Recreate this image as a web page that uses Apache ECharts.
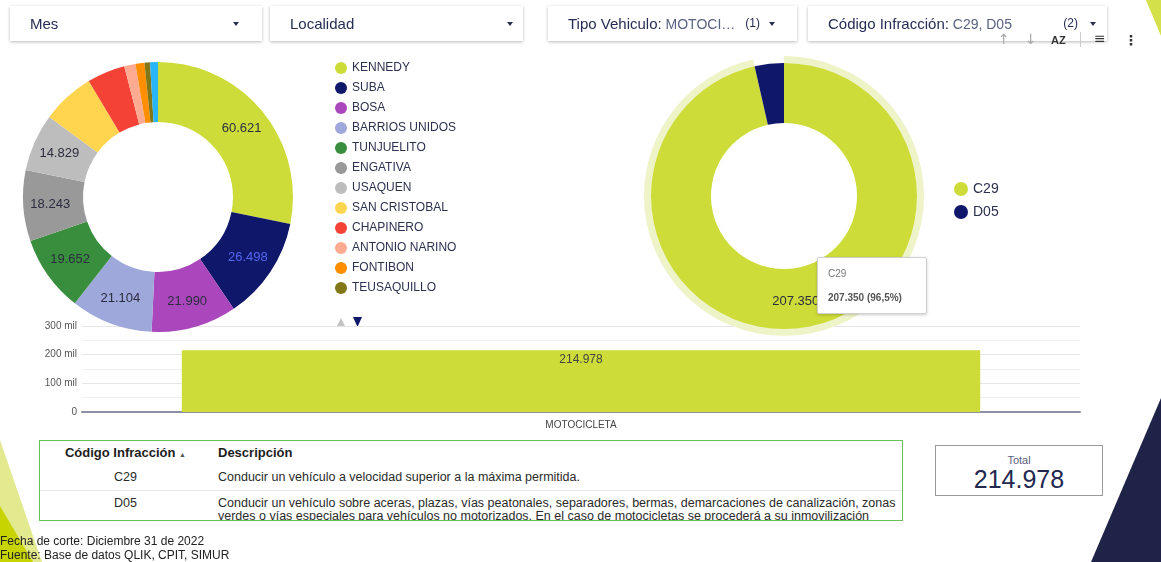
<!DOCTYPE html>
<html>
<head>
<meta charset="utf-8">
<script src="https://cdn.jsdelivr.net/npm/echarts@6/dist/echarts.min.js"></script>
<style>
body{margin:0;width:1161px;height:562px;overflow:hidden;background:#fff;font-family:Arial,"Liberation Sans",sans-serif;position:relative}
#main{position:absolute;left:0;top:0;width:1161px;height:562px}
.filtro{position:absolute;top:6px;height:35px;background:#fff;box-shadow:0 1px 3px rgba(0,0,0,.28);font-size:15px;color:#262d52;line-height:35px;box-sizing:border-box;padding-left:20px;white-space:nowrap}
.filtro .sel{color:#5b6283;font-size:14px}
.filtro .cnt{position:absolute;top:0;font-size:12px;color:#262d52}
.filtro .arr{position:absolute;top:16px;width:0;height:0;border-left:3px solid transparent;border-right:3px solid transparent;border-top:4px solid #2a2f4f}
.tool{position:absolute;top:31px;font-size:14px;color:#a8a8a8;line-height:16px;font-family:"DejaVu Sans",sans-serif}
#tabla{position:absolute;left:39px;top:440px;width:864px;height:81px;border:1.5px solid #6cbf5d;box-sizing:border-box;overflow:hidden;background:#fff}
#tabla table{border-collapse:collapse;width:100%;font-size:12.5px;color:#2a2a2a}
#tabla th{font-weight:bold;font-size:13px;color:#1d1d1d;height:23px;text-align:left;padding:0 0 0 7px}
#tabla th.c{text-align:center;padding:0}
#tabla td{padding:0 2px 0 7px;height:26px;border-bottom:1px solid #e8e8e8}
#tabla td.c{text-align:center;padding:0;width:171px}
#tabla td.top{vertical-align:top;padding-top:6px;line-height:13px;border-bottom:none}
#total{position:absolute;left:935px;top:445px;width:168px;height:51px;border:1px solid #9a9a9a;box-sizing:border-box;text-align:center;background:#fff}
#pie{position:absolute;left:0;top:534px;font-size:12px;color:#222;line-height:14px}
</style>
</head>
<body>
<div id="main"></div>

<div class="filtro" style="left:10px;width:252px">Mes<span class="arr" style="right:23px"></span></div>
<div class="filtro" style="left:270px;width:253px">Localidad<span class="arr" style="right:10px"></span></div>
<div class="filtro" style="left:548px;width:249px">Tipo Vehiculo:<span class="sel"> MOTOCI…</span><span class="cnt" style="right:37px">(1)</span><span class="arr" style="right:22px"></span></div>
<div class="filtro" style="left:808px;width:299px">Código Infracción:<span class="sel"> C29, D05</span><span class="cnt" style="right:29px">(2)</span><span class="arr" style="right:11px"></span></div>

<span class="tool" style="left:998px">↑</span>
<span class="tool" style="left:1025px">↓</span>
<span class="tool" style="left:1051px;color:#333;font-size:11px;font-weight:bold;top:32px;font-family:Arial,sans-serif">AZ</span>
<span class="tool" style="left:1080px;top:32px;width:1px;height:15px;background:#ccc"></span>
<span class="tool" style="left:1094px;color:#333;font-size:14px;top:30px">≡</span>
<span class="tool" style="left:1124px;color:#333;font-size:14px;font-weight:bold;top:32px">⋮</span>

<div id="tabla"></div>
<div id="total"><div style="font-size:11px;color:#5c6080;margin-top:8px">Total</div><div id="totalValor" style="font-size:25px;color:#232850;line-height:26px"></div></div>
<div id="pie">Fecha de corte: Diciembre 31 de 2022<br>Fuente: Base de datos QLIK, CPIT, SIMUR</div>

<script>
var localidades = ['KENNEDY', 'SUBA', 'BOSA', 'BARRIOS UNIDOS', 'TUNJUELITO', 'ENGATIVA', 'USAQUEN',
    'SAN CRISTOBAL', 'CHAPINERO', 'ANTONIO NARINO', 'FONTIBON', 'TEUSAQUILLO', 'OTROS'];
var infraccionesLocalidad = [60621, 26498, 21990, 21104, 19652, 18243, 14829, 13612, 9784, 2890, 2310, 1420, 2025];
var coloresLocalidad = ['#cddc39', '#0f176b', '#ab47bc', '#9fa8da', '#388e3c', '#999999', '#bdbdbd',
    '#ffd54f', '#f44336', '#ffab91', '#ff8f00', '#827717', '#29b6f6'];

var codigos = ['C29', 'D05'];
var infraccionesCodigo = [207350, 7628];
var coloresCodigo = ['#cddc39', '#0f176b'];
var descripciones = [
    'Conducir un vehículo a velocidad superior a la máxima permitida.',
    'Conducir un vehículo sobre aceras, plazas, vías peatonales, separadores, bermas, demarcaciones de canalización, zonas verdes o vías especiales para vehículos no motorizados. En el caso de motocicletas se procederá a su inmovilización hasta'
];

var tiposVehiculo = ['MOTOCICLETA'];
var infraccionesTipo = [214978];
var ejeMax = 300000;
var ejePaso = 100000;

function fmt(n) {
    return String(n).replace(/\B(?=(\d{3})+(?!\d))/g, '.');
}

var total = infraccionesTipo.reduce(function (a, b) { return a + b; }, 0);
var totalCodigo = infraccionesCodigo.reduce(function (a, b) { return a + b; }, 0);
document.getElementById('totalValor').textContent = fmt(total);

// tabla de descripciones
var html = '<table><tr><th class="c">Código Infracción <span style="font-size:7px;color:#555">▲</span></th><th>Descripción</th></tr>';
for (var i = 0; i < codigos.length; i++) {
    var ultima = i === codigos.length - 1;
    html += '<tr><td class="c' + (ultima ? ' top' : '') + '">' + codigos[i] + '</td><td' + (ultima ? ' class="top"' : '') + '>' + descripciones[i] + '</td></tr>';
}
html += '</table>';
document.getElementById('tabla').innerHTML = html;

var datosLocalidad = localidades.map(function (nombre, i) {
    return {
        name: nombre,
        value: infraccionesLocalidad[i],
        itemStyle: {color: coloresLocalidad[i]},
        label: {show: i < 7, color: i === 1 ? '#5468f0' : '#2b2d3f'}
    };
});
var datosCodigo = codigos.map(function (c, i) {
    return {name: c, value: infraccionesCodigo[i], itemStyle: {color: coloresCodigo[i]}, label: {show: i === 0}};
});
var datosHalo = codigos.map(function (c, i) {
    return {name: c, value: infraccionesCodigo[i], itemStyle: {color: i === 0 ? '#eef3c8' : 'rgba(0,0,0,0)'}};
});

var chart = echarts.init(document.getElementById('main'));
var option = {
    animation: false,
    textStyle: {fontFamily: 'Arial, "Liberation Sans", sans-serif'},
    graphic: [
        {type: 'polygon', z: -1, shape: {points: [[1146, 0], [1161, 0], [1161, 36]]}, style: {fill: '#d4e04a'}},
        {type: 'polygon', z: -1, shape: {points: [[1161, 398], [1161, 562], [1091, 562]]}, style: {fill: '#1f2347'}},
        {type: 'polygon', z: -1, shape: {points: [[0, 440], [42, 562], [0, 562]]}, style: {fill: '#e3e98f'}},
        {type: 'polygon', z: -1, shape: {points: [[0, 506], [33, 562], [0, 562]]}, style: {fill: '#c8d400'}},
        // flechas de paginacion de la leyenda (pagina 1 de 2)
        {type: 'polygon', shape: {points: [[336.5, 327], [341, 318], [345.5, 327]]}, style: {fill: '#c4c4c4'}},
        {type: 'polygon', shape: {points: [[353, 317], [362, 317], [357.5, 327]]}, style: {fill: '#0f176b'}}
    ],
    tooltip: {
        trigger: 'item',
        triggerOn: 'none',
        alwaysShowContent: true,
        transitionDuration: 0,
        position: [817, 257],
        backgroundColor: '#fff',
        borderColor: '#d0d0d0',
        borderWidth: 1,
        padding: [10, 10, 9, 10],
        extraCssText: 'box-shadow:0 1px 3px rgba(0,0,0,.2);border-radius:2px;width:88px;',
        formatter: function (p) {
            var pct = (p.value / totalCodigo * 100).toFixed(1).replace('.', ',');
            return '<div style="font-size:10px;color:#777;line-height:12px">' + p.name + '</div>' +
                '<div style="font-size:10px;color:#555;font-weight:bold;line-height:12px;margin-top:12px">' +
                fmt(p.value) + ' (' + pct + '%)</div>';
        }
    },
    legend: [
        {
            orient: 'vertical',
            left: 335,
            top: 62,
            padding: 0,
            data: localidades.slice(0, 12),
            icon: 'circle',
            itemWidth: 12,
            itemHeight: 12,
            itemGap: 8,
            textStyle: {fontSize: 12, color: '#2d3150'}
        },
        {
            orient: 'vertical',
            left: 949,
            top: 177,
            data: codigos.map(function (c, i) { return {name: c, itemStyle: {color: coloresCodigo[i]}}; }),
            icon: 'circle',
            itemWidth: 14,
            itemHeight: 14,
            itemGap: 9,
            textStyle: {fontSize: 14, color: '#2d3150'}
        }
    ],
    grid: {left: 82, right: 81, top: 326, height: 86},
    xAxis: {
        type: 'category',
        data: tiposVehiculo,
        axisLine: {lineStyle: {color: '#8d90a4', width: 2}},
        axisTick: {show: false},
        axisLabel: {fontSize: 10, color: '#444', margin: 8}
    },
    yAxis: {
        type: 'value',
        min: 0,
        max: ejeMax,
        interval: ejePaso,
        axisLabel: {
            fontSize: 10,
            color: '#555',
            margin: 5,
            formatter: function (v) { return v === 0 ? '0' : v / 1000 + ' mil'; }
        },
        splitLine: {lineStyle: {color: '#e6e6e6'}},
        minorTick: {show: false, splitNumber: 2},
        minorSplitLine: {show: true, lineStyle: {color: '#efefef'}}
    },
    series: [
        {
            type: 'bar',
            data: infraccionesTipo,
            barCategoryGap: '20%',
            itemStyle: {color: '#cddc39'},
            label: {
                show: true,
                position: 'insideTop',
                distance: 3,
                fontSize: 12,
                color: '#444',
                formatter: function (p) { return fmt(p.value); }
            },
            silent: true
        },
        {
            type: 'pie',
            center: [158, 197],
            radius: [75, 135],
            startAngle: 90,
            data: datosLocalidad,
            label: {
                position: 'inside',
                fontSize: 13,
                formatter: function (p) { return fmt(p.value); }
            },
            labelLine: {show: false},
            emphasis: {disabled: true},
            silent: true,
            z: 3
        },
        {
            type: 'pie',
            center: [784, 196],
            radius: [73, 133],
            startAngle: 90,
            data: datosCodigo,
            label: {
                position: 'inside',
                fontSize: 13,
                color: '#2b2d3f',
                formatter: function (p) { return fmt(p.value); }
            },
            labelLine: {show: false},
            emphasis: {disabled: true},
            z: 3
        },
        {
            type: 'pie',
            center: [784, 196],
            radius: [133, 140],
            startAngle: 90,
            data: datosHalo,
            label: {show: false},
            labelLine: {show: false},
            emphasis: {disabled: true},
            silent: true,
            z: 2
        }
    ]
};
chart.setOption(option);
chart.dispatchAction({type: 'showTip', seriesIndex: 2, dataIndex: 0});
</script>
</body>
</html>
